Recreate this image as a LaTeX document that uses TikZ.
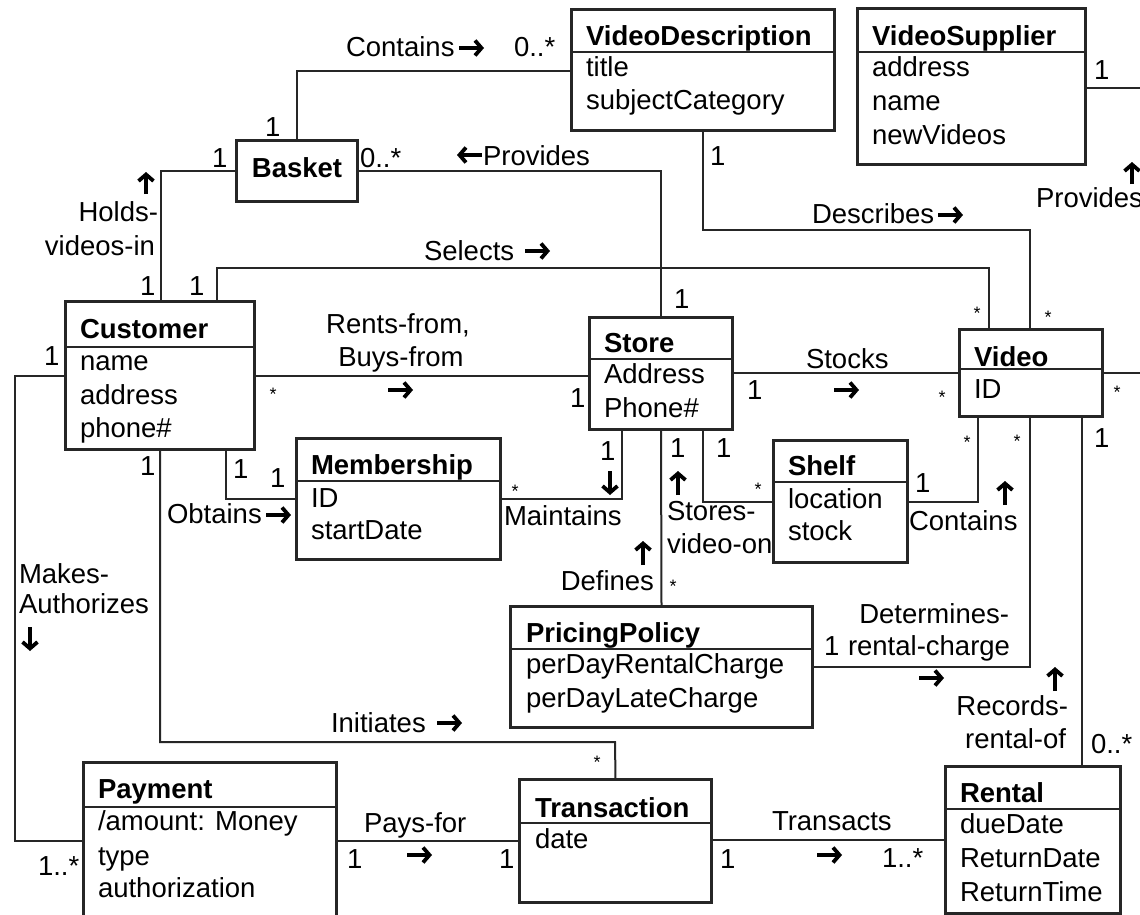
\documentclass[tikz,border=0pt]{standalone}
\usepackage{fontspec}
\setmainfont{Liberation Sans}
\usetikzlibrary{fit,arrows.meta}
\newcommand\umlfs{\fontsize{27.5}{33}\selectfont}
\tikzset{
  cbox/.style={draw=black!85, line width=2.2pt, inner sep=0pt, fill=white},
  sepline/.style={draw=black!85, line width=2pt},
  conn/.style={draw=black!85, line width=2pt},
  txt/.style={inner sep=0pt, outer sep=0pt, anchor=base west, text=black, font=\umlfs},
  txtr/.style={inner sep=0pt, outer sep=0pt, anchor=base east, text=black, font=\umlfs},
  txtc/.style={inner sep=0pt, outer sep=0pt, anchor=base, text=black, font=\umlfs},
  ttl/.style={inner sep=0pt, outer sep=0pt, anchor=base west, text=black, font={\umlfs\bfseries}},
  star/.style={inner sep=0pt, outer sep=0pt, anchor=base, text=black, font=\fontsize{18}{20}\selectfont},
  dirarr/.style={draw=black, line width=3.8pt, -{Straight Barb[length=6.5pt,width=15pt]}},
}
\begin{document}
\begin{tikzpicture}[x=1pt,y=-1pt]
\useasboundingbox (0,0) rectangle (1140,915);
\clip (0,0) rectangle (1140,915);
\fill[white] (0,0) rectangle (1140,915);

% ---------- class boxes ----------
\node[cbox, fit={(572,10) (834,130)}] (vd) {};
\node[cbox, fit={(858,9) (1085,164)}] (vs) {};
\node[cbox, fit={(237,141) (357,201)}] (basket) {};
\node[cbox, fit={(66,302) (254,449)}] (cust) {};
\node[cbox, fit={(590,318) (732,429)}] (store) {};
\node[cbox, fit={(297,439) (500,559)}] (memb) {};
\node[cbox, fit={(774,441) (907,562)}] (shelf) {};
\node[cbox, fit={(960,330) (1102,416)}] (video) {};
\node[cbox, fit={(511,607) (812,727)}] (pp) {};
\node[cbox, fit={(84,763) (336,950)}] (pay) {};
\node[cbox, fit={(520,780) (711,902)}] (trans) {};
\node[cbox, fit={(946,767) (1120,913)}] (rental) {};

% ---------- connectors ----------
\draw[conn] (basket.north) |- (vd.west |- 0,71);
\draw[conn] (cust.north -| 161,0) |- (basket.west);
\draw[conn] (cust.north -| 217,0) |- (989,268) -- (video.north -| 989,0);
\draw[conn] (vd.south -| 703,0) |- (1030,230) -- (video.north -| 1030,0);
\draw[conn] (basket.east) -| (store.north);
\draw[conn] (cust.east |- 0,376) -- (store.west |- 0,376);
\draw[conn] (store.east |- video.west) -- (video.west);
\draw[conn] (cust.south -| 226,0) |- (memb.west);
\draw[conn] (memb.east) -| (store.south -| 622,0);
\draw[conn] (store.south -| 703,0) |- (shelf.west);
\draw[conn] (store.south) -- (pp.north);
\draw[conn] (shelf.east) -| (video.south -| 978,0);
\draw[conn] (pp.east) -| (video.south -| 1030,0);
\draw[conn] (video.south -| 1082,0) -- (rental.north -| 1082,0);
\draw[conn] (cust.south -| 160,0) |- (615,742) -- (trans.north);
\draw[conn] (cust.west |- 0,376) -| (15,841) -- (pay.west |- 0,841);
\draw[conn] (pay.east |- 0,841) -- (trans.west |- 0,841);
\draw[conn] (trans.east |- 0,840) -- (rental.west |- 0,840);
\coordinate (edgeA) at (1142,88);
\coordinate (edgeB) at (1142,373);
\draw[conn] (vs.east |- edgeA) -- (edgeA);
\draw[conn] (video.east |- edgeB) -- (edgeB);

% ---------- redraw box borders on top ----------
\foreach \b in {vd,vs,basket,cust,store,memb,shelf,video,pp,pay,trans,rental}
  \draw[draw=black!85, line width=2.2pt] (\b.north west) rectangle (\b.south east);

% ---------- compartments ----------
\draw[sepline] (vd.west |- 0,52) -- (vd.east |- 0,52);
\draw[sepline] (vs.west |- 0,52) -- (vs.east |- 0,52);
\draw[sepline] (cust.west |- 0,347) -- (cust.east |- 0,347);
\draw[sepline] (store.west |- 0,359) -- (store.east |- 0,359);
\draw[sepline] (memb.west |- 0,481) -- (memb.east |- 0,481);
\draw[sepline] (shelf.west |- 0,482) -- (shelf.east |- 0,482);
\draw[sepline] (video.west |- 0,369) -- (video.east |- 0,369);
\draw[sepline] (pp.west |- 0,649) -- (pp.east |- 0,649);
\draw[sepline] (pay.west |- 0,807) -- (pay.east |- 0,807);
\draw[sepline] (trans.west |- 0,823) -- (trans.east |- 0,823);
\draw[sepline] (rental.west |- 0,809) -- (rental.east |- 0,809);

% ---------- class texts ----------
\node[ttl] (vdT) at (586,46) {VideoDescription};
\node[txt] (vdA1) at (586,77) {title};
\node[txt] (vdA2) at (586,110) {subjectCategory};

\node[ttl] (vsT) at (872,46) {VideoSupplier};
\node[txt] (vsA1) at (872,77) {address};
\node[txt] (vsA2) at (872,111) {name};
\node[txt] (vsA3) at (872,145) {newVideos};

\node[ttl, anchor=base] (basketT) at (297,177) {Basket};

\node[ttl] (custT) at (80,338) {Customer};
\node[txt] (custA1) at (80,370) {name};
\node[txt] (custA2) at (80,404) {address};
\node[txt] (custA3) at (80,437) {phone\#};

\node[ttl] (storeT) at (604,352) {Store};
\node[txt] (storeA1) at (604,383) {Address};
\node[txt] (storeA2) at (604,417) {Phone\#};

\node[ttl] (membT) at (311,474) {Membership};
\node[txt] (membA1) at (311,507) {ID};
\node[txt] (membA2) at (311,539) {startDate};

\node[ttl] (shelfT) at (788,475) {Shelf};
\node[txt] (shelfA1) at (788,508) {location};
\node[txt] (shelfA2) at (788,540) {stock};

\node[ttl] (videoT) at (974,366) {Video};
\node[txt] (videoA1) at (974,398) {ID};

\node[ttl] (ppT) at (526,642) {PricingPolicy};
\node[txt] (ppA1) at (526,673) {perDayRentalCharge};
\node[txt] (ppA2) at (526,707) {perDayLateCharge};

\node[ttl] (payT) at (98,798) {Payment};
\node[txt] (payA1) at (98,830) {/amount: Money};
\node[txt] (payA2) at (98,865) {type};
\node[txt] (payA3) at (98,897) {authorization};

\node[ttl] (transT) at (535,817) {Transaction};
\node[txt] (transA1) at (535,848) {date};

\node[ttl] (rentalT) at (960,802) {Rental};
\node[txt] (rentalA1) at (960,833) {dueDate};
\node[txt] (rentalA2) at (960,867) {ReturnDate};
\node[txt] (rentalA3) at (960,901) {ReturnTime};

% ---------- association labels ----------
% Contains (Basket - VideoDescription)
\node[txt] (lContains) at (346,57) {Contains};
\draw[dirarr] (459,48) -- (484,48);
\node[txt] (mC1) at (514,57) {0..*};
\node[txt] (mC2) at (265,137) {1};
% Holds-videos-in
\node[txt] (mH1) at (212,167) {1};
\draw[dirarr] (146,194) -- (146,172);
\node[txtr] (lHolds1) at (158,221) {Holds-};
\node[txtr] (lHolds2) at (155,255) {videos-in};
\node[txt] (mH2) at (140,295) {1};
% Provides (Basket - Store)
\node[txt] (mP1) at (360,167) {0..*};
\draw[dirarr] (482,155) -- (457,155);
\node[txt] (lProv) at (483,165) {Provides};
\node[txt] (mP2) at (674,308) {1};
% Selects
\node[txt] (mS1) at (189,295) {1};
\node[txt] (lSel) at (424,260) {Selects};
\draw[dirarr] (525,251) -- (550,251);
\node[star] (mS2) at (977,319.5) {*};
% Describes
\node[txt] (mD1) at (710,165) {1};
\node[txt] (lDesc) at (812,223) {Describes};
\draw[dirarr] (938,215) -- (963,215);
\node[star] (mD2) at (1048,323.5) {*};
% VideoSupplier Provides
\node[txt] (mV1) at (1094,80) {1};
\draw[dirarr] (1132,184) -- (1132,162);
\node[txt] (lProv2) at (1036,207) {Provides};
% Rents-from, Buys-from
\node[txtc] (lRent1) at (398,333) {Rents-from,};
\node[txtc] (lRent2) at (401,366) {Buys-from};
\draw[dirarr] (388,390) -- (413,390);
\node[star] (mR1) at (273,400.5) {*};
\node[txt] (mR2) at (570,407) {1};
% Stocks
\node[txt] (mSt1) at (747,399) {1};
\node[txt] (lStocks) at (806,368) {Stocks};
\draw[dirarr] (834,390) -- (859,390);
\node[star] (mSt2) at (942,403.5) {*};
\node[star] (mV2) at (1117,398.5) {*};
% Obtains
\node[txt] (mO1) at (233,478) {1};
\node[txt] (mO2) at (270,487) {1};
\node[txt] (lObt) at (167,523) {Obtains};
\draw[dirarr] (266,515) -- (291,515);
% Maintains
\node[star] (mM1) at (515,497.5) {*};
\node[txt] (mM2) at (600,460) {1};
\draw[dirarr] (610,471) -- (610,495);
\node[txt] (lMaint) at (504,525) {Maintains};
% Stores-video-on
\node[txt] (mSv1) at (716,457) {1};
\node[star] (mSv2) at (758,495.5) {*};
\draw[dirarr] (678,495) -- (678,471);
\node[txt] (lStor1) at (667,520) {Stores-};
\node[txt] (lStor2) at (667,553) {video-on};
% Defines
\node[txt] (mDf1) at (670,457) {1};
\draw[dirarr] (643,565) -- (643,541);
\node[txtr] (lDef) at (654,590) {Defines};
\node[star] (mDf2) at (673,592.5) {*};
% Contains (Shelf - Video)
\node[txt] (mCo1) at (915,492) {1};
\node[star] (mCo2) at (967,448.5) {*};
\draw[dirarr] (1005,505) -- (1005,481);
\node[txt] (lCont2) at (909,530) {Contains};
% Determines-rental-charge
\node[star] (mDe1) at (1017,447.5) {*};
\node[txt] (mDe2) at (824,655) {1};
\node[txtr] (lDet1) at (1009,623) {Determines-};
\node[txt] (lDet2) at (848,655) {rental-charge};
\draw[dirarr] (919,678) -- (944,678);
% Records-rental-of
\node[txt] (mRe1) at (1094,447) {1};
\node[txt] (mRe2) at (1091,753) {0..*};
\draw[dirarr] (1055,691) -- (1055,667);
\node[txtr] (lRec1) at (1068,715) {Records-};
\node[txtr] (lRec2) at (1066,748) {rental-of};
% Initiates
\node[txt] (mI1) at (140,475) {1};
\node[txt] (lInit) at (331,732) {Initiates};
\draw[dirarr] (437,723) -- (462,723);
\node[star] (mI2) at (597,768.5) {*};
% Makes-Authorizes
\node[txt] (mMa1) at (44,365) {1};
\node[txt] (lMak1) at (19,583) {Makes-};
\node[txt] (lMak2) at (19,613) {Authorizes};
\draw[dirarr] (30,627) -- (30,651);
\node[txt] (mMa2) at (38,875) {1..*};
% Pays-for
\node[txt] (mPf1) at (347,868) {1};
\node[txt] (lPays) at (364,832) {Pays-for};
\draw[dirarr] (407,855) -- (432,855);
\node[txt] (mPf2) at (499,868) {1};
% Transacts
\node[txt] (mT1) at (720,868) {1};
\node[txt] (lTrans) at (772,830) {Transacts};
\draw[dirarr] (817,855) -- (842,855);
\node[txt] (mT2) at (882,867) {1..*};
\end{tikzpicture}
\end{document}
